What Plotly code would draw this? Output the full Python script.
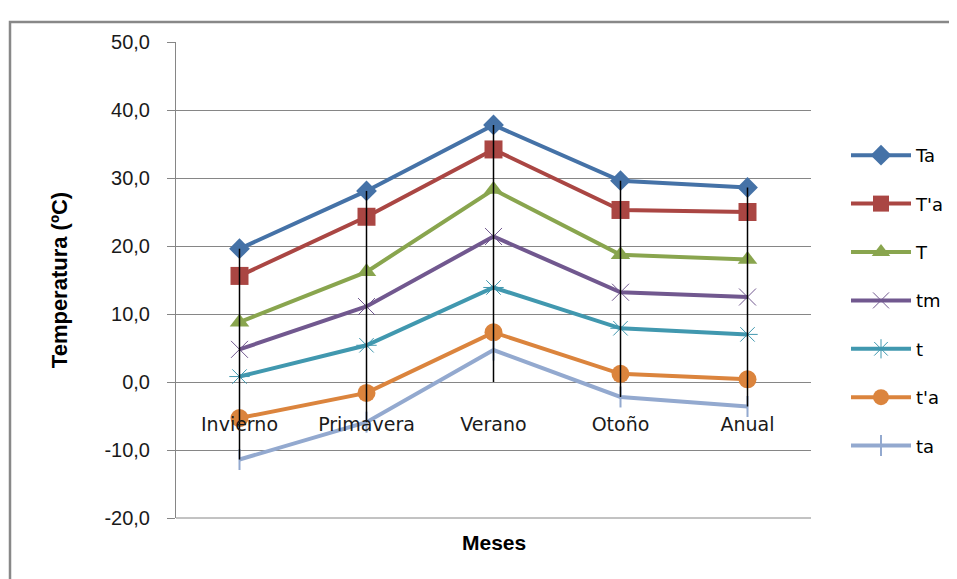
import plotly.graph_objects as go

categories = ["Invierno", "Primavera", "Verano", "Otoño", "Anual"]
series_names = ["Ta", "T'a", "T", "tm", "t", "t'a", "ta"]
Ta = [19.6, 28.1, 37.8, 29.6, 28.6]
Tpa = [15.6, 24.3, 34.2, 25.3, 25.0]
T = [8.8, 16.2, 28.3, 18.7, 18.0]
tm = [4.8, 11.1, 21.4, 13.2, 12.5]
t = [0.8, 5.4, 13.9, 7.9, 7.0]
tpa = [-5.3, -1.6, 7.3, 1.2, 0.4]
ta = [-11.4, -5.9, 4.7, -2.2, -3.6]
y_ticks = [-20, -10, 0, 10, 20, 30, 40, 50]
y_tick_labels = ["-20,0", "-10,0", "0,0", "10,0", "20,0", "30,0", "40,0", "50,0"]

values = [Ta, Tpa, T, tm, t, tpa, ta]
colors = ["#4572A7", "#AA4643", "#89A54E", "#71588F", "#4198AF", "#DB843D", "#93A9CF"]
symbols = ["diamond", "square", "triangle-up", "x-thin-open", "asterisk-open", "circle", "line-ns-open"]
msizes = [16, 18, 17, 17, 17, 18, 15]
mlw = [0, 0, 0, 1, 1, 0, 2]

fig = go.Figure()
for i, (name, vals) in enumerate(zip(series_names, values)):
    fig.add_trace(go.Scatter(
        x=categories, y=vals, name=name, mode="lines+markers",
        line=dict(color=colors[i], width=4),
        marker=dict(symbol=symbols[i], size=msizes[i], color=colors[i],
                    line=dict(color=colors[i], width=mlw[i])),
        legendgroup=name,
    ))

# drop lines: from the highest point down to the axis (or the lowest point if below it)
hx, hy = [], []
for j, c in enumerate(categories):
    col = [v[j] for v in values]
    hx += [c, c, None]
    hy += [max(max(col), 0), min(min(col), 0), None]
fig.add_trace(go.Scatter(x=hx, y=hy, mode="lines", line=dict(color="black", width=1.5),
                         showlegend=False, hoverinfo="skip"))

OFF = 8  # page body margin
W, H = 957 - OFF, 579 - OFF
L, R, Tp, B = 176 - OFF, 811 - OFF, 42 - OFF, 518 - OFF
def px_x(p):
    return (p - OFF - L) / (R - L)
def px_y(p):
    return (B - (p - OFF)) / (B - Tp)

fig.add_shape(type="rect", xref="paper", yref="paper",
              x0=px_x(10), x1=px_x(975), y0=px_y(595), y1=px_y(22),
              line=dict(color="#888888", width=2.5), fillcolor="rgba(0,0,0,0)")

fig.add_annotation(text="<b>Meses</b>", xref="paper", yref="paper",
                   x=px_x(494), y=px_y(542), xanchor="center", yanchor="middle",
                   showarrow=False, font=dict(family="Liberation Sans, Arial", size=21, color="#000000"))

fig.update_layout(
    width=W, height=H,
    margin=dict(l=L, r=W - R, t=Tp, b=H - B, autoexpand=False),
    paper_bgcolor="white", plot_bgcolor="white",
    font=dict(family="Liberation Sans, Arial, sans-serif", color="#000000"),
    legend=dict(x=px_x(846), y=px_y(137), xanchor="left", yanchor="top",
                font=dict(family="DejaVu Sans, sans-serif", size=18),
                tracegroupgap=22, itemwidth=60, bgcolor="rgba(0,0,0,0)"),
    xaxis=dict(type="category", anchor="free", position=px_y(382),
               showgrid=False, showline=False, zeroline=False,
               ticks="", ticklabelstandoff=29,
               tickfont=dict(family="DejaVu Sans, sans-serif", size=19, color="#1a1a1a"),
               range=[-0.5, len(categories) - 0.5]),
    yaxis=dict(range=[-20, 50], tickvals=y_ticks, ticktext=y_tick_labels,
               showgrid=True, gridcolor="#868686", gridwidth=1,
               showline=True, linecolor="#868686", linewidth=1,
               ticks="outside", ticklen=8, tickcolor="#868686",
               ticklabelstandoff=13, zeroline=False,
               tickfont=dict(family="Liberation Sans, Arial", size=20, color="#1a1a1a"),
               title=dict(text="<b>Temperatura (ºC)</b>", font=dict(family="Liberation Sans, Arial", size=22),
                          standoff=30)),
)

fig.add_shape(type="line", xref="paper", yref="paper", x0=0, x1=1, y0=0, y1=0,
              line=dict(color="#868686", width=1))

fig.write_html("out.html")
